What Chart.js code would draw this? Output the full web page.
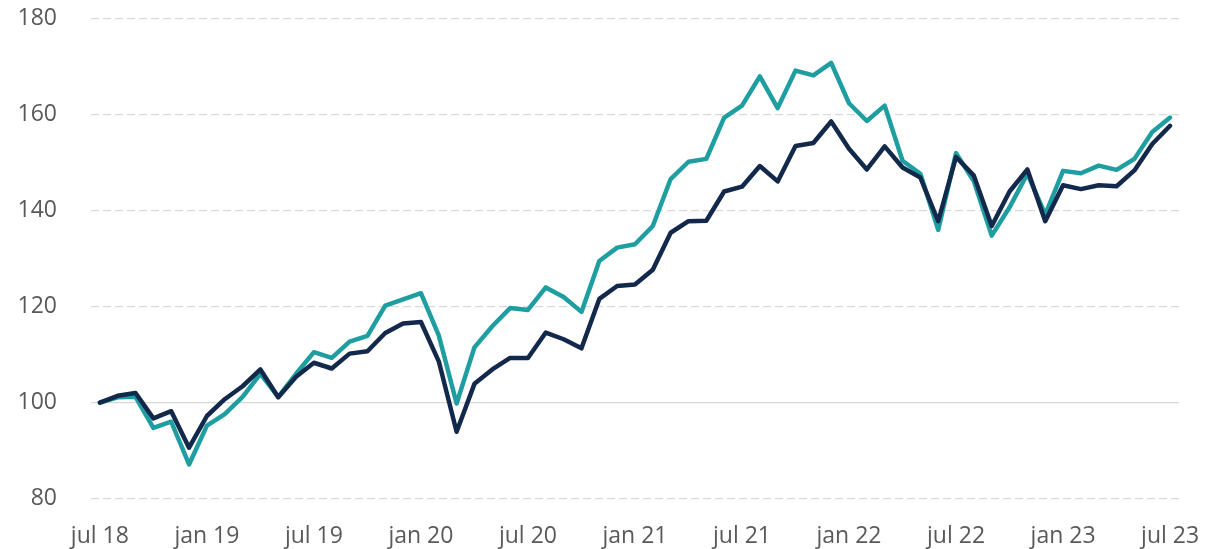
<!DOCTYPE html>
<html>
<head>
<meta charset="utf-8">
<script src="https://cdn.jsdelivr.net/npm/chart.js@4"></script>
<style>
html,body{margin:0;padding:0;background:#fff;}
#wrap{width:1220px;height:549px;position:relative;}
</style>
</head>
<body>
<div id="wrap"><canvas id="c" width="1220" height="549"></canvas></div>
<script>
const months = ['jul','aug','sep','okt','nov','dec','jan','feb','mar','apr','maj','jun'];
const categories = [];
for (let y = 18; y <= 23; y++) {
  for (let m = 0; m < 12; m++) {
    if (categories.length < 61) categories.push(months[m] + ' ' + (m >= 6 ? y + 1 : y));
  }
}
const tickEvery = 6;

const seriesDark = [
  100.0, 101.4, 102.0, 96.7, 98.2, 90.6, 97.2, 100.7, 103.4, 106.9, 101.1, 105.4,
  108.3, 107.1, 110.2, 110.7, 114.5, 116.5, 116.8, 108.6, 93.9, 103.9, 106.9, 109.3,
  109.3, 114.6, 113.2, 111.3, 121.6, 124.3, 124.6, 127.7, 135.4, 137.8, 137.9, 144.0,
  145.0, 149.3, 146.1, 153.5, 154.1, 158.6, 152.9, 148.6, 153.4, 149.0, 146.9, 137.8,
  151.2, 147.3, 136.8, 144.0, 148.6, 137.8, 145.3, 144.5, 145.3, 145.1, 148.4, 153.9,
  157.7
];
const seriesTeal = [
  100.0, 101.1, 101.2, 94.7, 96.0, 87.1, 95.2, 97.6, 101.2, 106.0, 101.2, 106.0,
  110.5, 109.3, 112.7, 113.9, 120.2, 121.5, 122.8, 114.0, 99.8, 111.5, 115.9, 119.7,
  119.3, 124.0, 122.0, 118.9, 129.5, 132.3, 133.0, 136.8, 146.6, 150.2, 150.8, 159.4,
  161.9, 168.0, 161.4, 169.2, 168.2, 170.8, 162.4, 158.7, 161.9, 150.4, 147.7, 136.0,
  152.0, 146.1, 134.8, 140.7, 147.7, 139.2, 148.3, 147.8, 149.4, 148.5, 150.8, 156.4,
  159.4
];
const yMin = 80, yMax = 180, yStep = 20;

new Chart(document.getElementById('c'), {
  type: 'line',
  data: {
    labels: categories,
    datasets: [
      { label: 'A', data: seriesDark, borderColor: '#13294b', borderWidth: 4.5, pointRadius: 0, tension: 0, borderJoinStyle: 'round', borderCapStyle: 'round', order: 0 },
      { label: 'B', data: seriesTeal, borderColor: '#1f9ea1', borderWidth: 4.5, pointRadius: 0, tension: 0, borderJoinStyle: 'round', borderCapStyle: 'round', order: 1 }
    ]
  },
  options: {
    responsive: false,
    animation: false,
    layout: { padding: { left: 12.5, right: 41, top: 0, bottom: -26.1 } },
    plugins: { legend: { display: false }, tooltip: { enabled: false } },
    scales: {
      x: {
        type: 'category',
        offset: true,
        grid: { display: false, drawTicks: false },
        border: { display: false },
        afterFit: (s) => { s.paddingRight = 0; },
        ticks: {
          autoSkip: false,
          maxRotation: 0,
          padding: 24.5,
          color: '#595959',
          font: { family: 'Open Sans', size: 23 },
          callback: function(v, i) { return i % tickEvery === 0 ? this.getLabelForValue(v) : null; }
        }
      },
      y: {
        min: yMin, max: yMax,
        grid: { color: '#d9d9d9', lineWidth: 1.3, drawTicks: true, tickLength: 29, tickColor: 'rgba(0,0,0,0)' },
        border: { display: false, dash: (ctx) => (ctx.tick && ctx.tick.value === 100 ? [] : [8, 4]) },
        ticks: {
          stepSize: yStep,
          padding: 5,
          color: '#595959',
          font: { family: 'Open Sans', size: 23 }
        }
      }
    }
  }
});
</script>
</body>
</html>
